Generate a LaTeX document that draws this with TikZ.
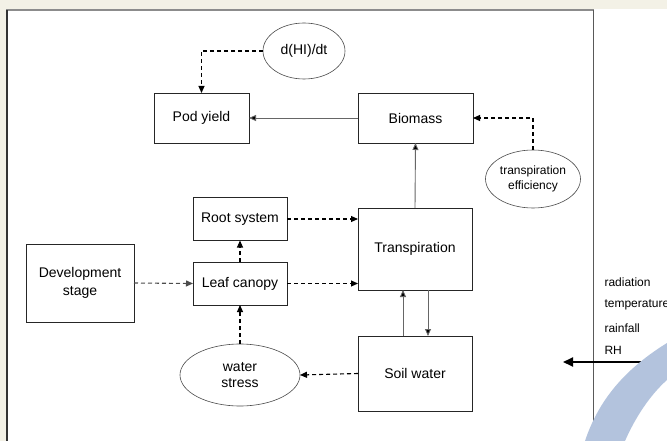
\documentclass[tikz,border=0pt]{standalone}
\usepackage{fontspec}
\setmainfont{Liberation Sans}
\usepackage{tikz}
\usetikzlibrary{positioning,shapes.geometric,arrows.meta}
\definecolor{cream}{HTML}{F3F1E6}
\definecolor{arcblue}{HTML}{B3C3DD}
\newcommand{\bigtxt}{\fontsize{14}{17}\selectfont}
\newcommand{\smalltxt}{\fontsize{12}{15}\selectfont}

\begin{document}
\begin{tikzpicture}[x=1pt,y=-1pt,
    box/.style={draw=black!85,line width=0.8pt,inner sep=0pt,outer sep=0pt,font=\bigtxt,align=center},
    oval/.style={ellipse,draw=black!70,line width=0.6pt,inner sep=0pt,outer sep=0pt,align=center},
    flow/.style={draw=black!60,line width=0.9pt,-{Triangle[length=7pt,width=6pt,fill=black]}},
    dasharrow/.style={draw=black,line width=1.1pt,dash pattern=on 4pt off 3pt,-{Triangle[length=7pt,width=6pt]}}]
  \useasboundingbox (0,0) rectangle (667,441);
  % page and panel
  \fill[cream] (0,0) rectangle (667,441);
  \fill[white] (7,9) rectangle (667,441);
  \draw[black!45,line width=2pt] (6,10) -- (594,10);
  \draw[black!80,line width=2pt] (7,10) -- (7,441);
  \draw[black!65,line width=1pt] (593,10) -- (593,441);

  % nodes
  \node[oval,minimum width=82pt,minimum height=56pt,font=\bigtxt] (hi) at (304,51) {d(HI)/dt};
  \node[box,minimum width=95pt,minimum height=50pt] (pod) at (201.5,118) {Pod yield};
  \node[box,minimum width=115pt,minimum height=50pt] (biomass) at (415.5,118) {Biomass};
  \node[oval,minimum width=95pt,minimum height=58pt,font=\smalltxt] (te) at (533,179) {transpiration\\efficiency};
  \node[box,minimum width=94pt,minimum height=43pt] (root) at (240,219) {Root system};
  \node[box,minimum width=114pt,minimum height=82pt] (transp) at (415,249) {Transpiration};
  \node[box,minimum width=108pt,minimum height=78pt,font=\fontsize{14}{18}\selectfont] (dev) at (80,283) {Development\\stage};
  \node[box,minimum width=94pt,minimum height=43pt] (leaf) at (240,283.5) {Leaf canopy};
  \node[oval,minimum width=120pt,minimum height=62pt,font=\fontsize{14}{16}\selectfont] (ws) at (240,375) {water\\stress};
  \node[box,minimum width=114pt,minimum height=75pt] (soil) at (415,373.5) {Soil water};

  % weather inputs
  \node[anchor=west,font=\smalltxt] (rad) at (601,282) {radiation};
  \node[anchor=west,font=\smalltxt] (temp) at (601,305) {temperature};
  \node[anchor=west,font=\smalltxt] (rain) at (601,328) {rainfall};
  \node[anchor=west,font=\smalltxt] (rh) at (601,350) {RH};
  \coordinate (wstart) at (643,362);
  \coordinate (wend) at (563,362);

  % connectors
  \draw[dasharrow] (hi.west) -| (pod.north);
  \draw[flow] (biomass.west) -- (pod.east);
  \draw[dasharrow] (te.north) |- (biomass.east);
  \draw[flow] (transp.north) -- (biomass.south);
  \draw[dasharrow] (root.east) -- (root.east -| transp.west);
  \draw[dasharrow] (leaf.east) -- (leaf.east -| transp.west);
  \draw[dasharrow,draw=black!70] (dev.east) -- (leaf.west);
  \draw[dasharrow] (leaf.north) -- (root.south);
  \draw[dasharrow] (ws.north) -- (leaf.south);
  \draw[dasharrow] (soil.west) -- (ws.east);
  \draw[flow] ([xshift=-12pt]soil.north) -- ([xshift=-12pt]transp.south);
  \draw[flow] ([xshift=13pt]transp.south) -- ([xshift=13pt]soil.north);
  \draw[black,line width=2pt,-{Triangle[length=10pt,width=9pt]}] (wstart) -- (wend);

  % blue arc
  \fill[arcblue] (667,343) .. controls (620,372) and (597,405) .. (585,441)
    -- (625,441) .. controls (635,418) and (650,395) .. (667,380) -- cycle;
\end{tikzpicture}
\end{document}
